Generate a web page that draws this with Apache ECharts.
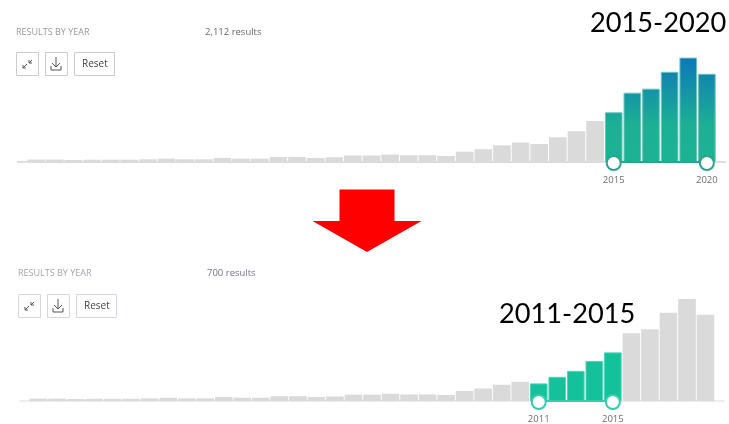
<!DOCTYPE html>
<html>
<head>
<meta charset="utf-8">
<title>Results by year</title>
<style>
  html, body { margin: 0; padding: 0; background: #fff; }
  #chart { width: 729px; height: 424px; }
</style>
<script src="https://cdn.jsdelivr.net/npm/echarts@6/dist/echarts.min.js"></script>
</head>
<body>
<div id="chart"></div>
<script>
const years = [1984, 1985, 1986, 1987, 1988, 1989, 1990, 1991, 1992, 1993, 1994, 1995,
  1996, 1997, 1998, 1999, 2000, 2001, 2002, 2003, 2004, 2005, 2006, 2007, 2008, 2009,
  2010, 2011, 2012, 2013, 2014, 2015, 2016, 2017, 2018, 2019, 2020];
const results = [11, 11, 9, 10, 10, 10, 12, 15, 12, 12, 18, 15,
  15, 22, 22, 18, 21, 29, 29, 33, 30, 30, 27, 46, 57, 74,
  87, 80, 110, 137, 182, 221, 308, 326, 401, 464, 392];
const topRange = [2015, 2020];
const bottomRange = [2011, 2015];

const font = '"Open Sans", sans-serif';

// top selection fades from blue down to green, over the whole chart and not per bar
const topFill = new echarts.graphic.LinearGradient(0, 58, 0, 161, [
  { offset: 0, color: '#0c78b8' },
  { offset: 0.65, color: '#1cb094' },
  { offset: 1, color: '#1cb394' }
], true);
const bottomFill = '#13c29b';

function barData(range, fill, border) {
  return years.map((y, i) => {
    const on = y >= range[0] && y <= range[1];
    return {
      value: [y, results[i]],
      itemStyle: {
        color: on ? fill : '#dadada',
        borderColor: on ? border : '#dadada',
        borderWidth: on ? 1 : 0
      }
    };
  });
}

function xAxis(gridIndex, range, lineColor) {
  return {
    type: 'value',
    gridIndex,
    min: 1983,
    max: 2021,
    splitLine: { show: false },
    axisTick: { show: false },
    axisLine: { show: true, onZero: false, lineStyle: { color: lineColor, width: 1.5 } },
    axisLabel: {
      customValues: range,
      margin: 13,
      fontSize: 9.5,
      fontWeight: 500,
      fontFamily: font,
      color: '#6e6e6e',
      formatter: v => String(v)
    }
  };
}

function yAxis(gridIndex) {
  return { type: 'value', gridIndex, min: 0, max: 500, show: false };
}

function bars(index, range, fill, border, width) {
  return {
    type: 'bar',
    xAxisIndex: index,
    yAxisIndex: index,
    barWidth: width,
    silent: true,
    data: barData(range, fill, border)
  };
}

function slider(index, range, color) {
  return {
    type: 'line',
    xAxisIndex: index,
    yAxisIndex: index,
    z: 5,
    silent: true,
    clip: false,
    symbol: 'circle',
    symbolSize: 14,
    symbolOffset: [0, 1],
    showSymbol: true,
    lineStyle: { color, width: 2 },
    itemStyle: { color: '#fff', borderColor: color, borderWidth: 2 },
    data: range.map(y => [y, 0])
  };
}

function label(x, y, text, size, color, family) {
  return {
    type: 'text',
    x, y,
    silent: true,
    style: { text, fontSize: size, fill: color, fontFamily: family || font, textVerticalAlign: 'middle' }
  };
}

function button(x, y, w, h, stroke) {
  return {
    type: 'rect',
    silent: true,
    shape: { x: x + 0.5, y: y + 0.5, width: w, height: h },
    style: { fill: '#fff', stroke, lineWidth: 1 }
  };
}

function toolbar(x, y, stroke) {
  const ink = '#555';
  const line = (x1, y1, x2, y2) => ({
    type: 'line',
    silent: true,
    shape: { x1: x + x1, y1: y + y1, x2: x + x2, y2: y + y2 },
    style: { stroke: ink, lineWidth: 1 }
  });
  return [
    button(x, y, 22, 23, stroke),
    button(x + 29, y, 22, 23, stroke),
    button(x + 58, y, 40, 23, stroke),
    // collapse icon
    line(7, 16, 11, 12), line(7, 13, 7, 16), line(7, 16, 10, 16),
    line(16, 8, 13, 11), line(13, 8, 13, 11), line(13, 11, 16, 11),
    // download icon
    line(40, 5, 40, 15), line(36, 11, 40, 15), line(44, 11, 40, 15),
    line(35, 14, 35, 18), line(35, 18, 45, 18), line(45, 18, 45, 14),
    label(x + 66, y + 12, 'Reset', 10, '#444')
  ];
}

const chart = echarts.init(document.getElementById('chart'), null, { renderer: 'canvas' });

chart.setOption({
  animation: false,
  backgroundColor: '#fff',
  grid: [
    { left: 17.5, width: 708, top: 49.5, height: 112.5 },
    { left: 20, width: 704, top: 291, height: 111.5 }
  ],
  xAxis: [xAxis(0, topRange, '#d4d4d4'), xAxis(1, bottomRange, '#e8e8e8')],
  yAxis: [yAxis(0), yAxis(1)],
  series: [
    bars(0, topRange, topFill, '#6cc4b6', 17.6),
    slider(0, topRange, '#2ba38e'),
    bars(1, bottomRange, bottomFill, '#4fd2b6', 17.6),
    slider(1, bottomRange, '#35cdaa')
  ],
  graphic: [
    label(16, 32, 'RESULTS BY YEAR', 9, '#999'),
    label(205, 32, '2,112 results', 9.5, '#666'),
    ...toolbar(16, 52, '#cccccc'),
    label(590, 23, '2015-2020', 27.2, '#000', 'Lato'),

    {
      type: 'polygon',
      silent: true,
      shape: { points: [[339.5, 189.5], [394.5, 189.5], [394.5, 221], [421.5, 221], [367, 252], [312.5, 221], [339.5, 221]] },
      style: { fill: '#ff0000' }
    },

    label(18, 273.5, 'RESULTS BY YEAR', 9, '#a5a5ad'),
    label(207, 273.5, '700 results', 9.5, '#77718a'),
    ...toolbar(18, 294, '#d3d7e6'),
    label(499, 314.5, '2011-2015', 27.2, '#000', 'Lato')
  ]
});
</script>
</body>
</html>
